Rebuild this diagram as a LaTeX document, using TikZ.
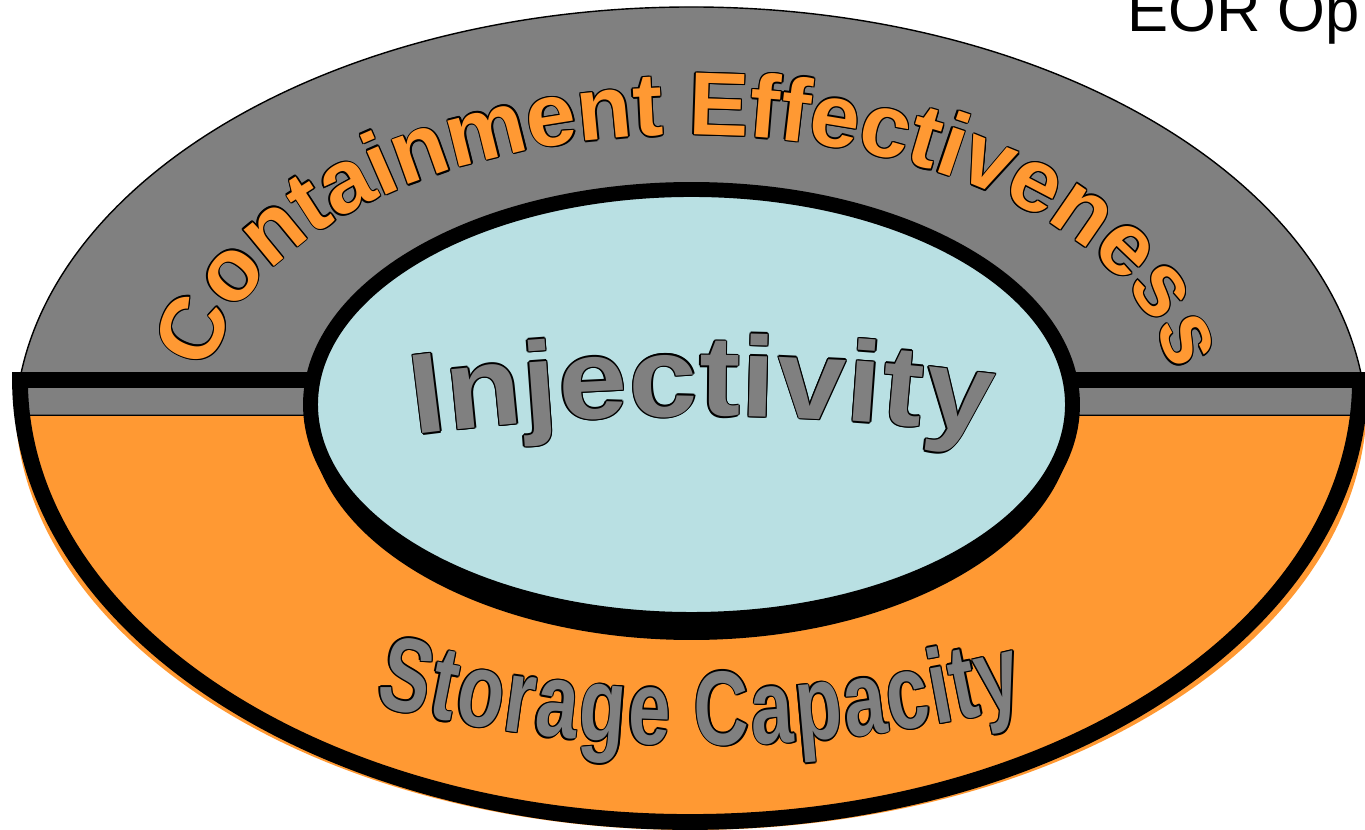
\documentclass[tikz,border=0pt]{standalone}
\usepackage{fontspec}
\usetikzlibrary{decorations.text}
\newfontfamily\capsfont{Liberation Sans}
\newfontfamily\widecaps{Liberation Sans}[FakeStretch=1.08]
\newfontfamily\narrowcaps{Liberation Sans}[FakeStretch=0.72]
\definecolor{rimgrey}{HTML}{808080}
\definecolor{bandorange}{HTML}{FF9933}
\definecolor{corecyan}{HTML}{B9E0E3}

% letter with a thin black ring round it
\newcommand\ringletter[2]{\hbox{%
  \foreach \ringang in {0,45,...,315}{%
    \pgfmathsetlengthmacro\ringdx{0.8pt*cos(\ringang)}%
    \pgfmathsetlengthmacro\ringdy{0.8pt*sin(\ringang)}%
    \rlap{\kern\ringdx\raise\ringdy\hbox{\color{black}#2}}}%
  \textcolor{#1}{\hbox{#2}}}}
\newcommand\orangeletter[1]{\ringletter{bandorange}{#1}}
\newcommand\greyletter[1]{\ringletter{rimgrey}{#1}}

\begin{document}
\begin{tikzpicture}[x=0.02cm,y=0.02cm,
  thickrim/.style={line width=9pt,line join=miter},
  thinrim/.style={line width=0.8pt}]
\useasboundingbox (0,0) rectangle (1365,830);
\clip (0,0) rectangle (1365,830);
% bands
\fill[bandorange] (691,430) ++(182:676 and 430)
  arc[start angle=182,end angle=358,x radius=676,y radius=430] -- cycle;
\filldraw[fill=rimgrey,draw=black,thinrim] (691,400) ++(2:676 and 423)
  arc[start angle=2,end angle=178,x radius=676,y radius=423] -- cycle;
\coordinate (barL) at (20,450);
\coordinate (coreL) at (310,450);
\coordinate (coreR) at (1073,450);
\draw[thickrim] (coreL) -- (barL)
  arc[start angle=180,end angle=360,x radius=670,y radius=442] -- (coreR);
% core
\fill[black] (691.5,412.5) ellipse[x radius=382,y radius=222.5];
\filldraw[fill=corecyan,draw=black,line width=8.5pt] (691.5,425.5) ellipse[x radius=381,y radius=215];
% texts
\path[decorate,decoration={text effects along path,text={Containment Effectiveness},
  text effects/.cd,text along path,fit text to path,character command=\orangeletter,
  every character/.append style={font=\capsfont\bfseries\fontsize{51pt}{53pt}\selectfont}}]
  (691,430) ++(174:482 and 265) arc[start angle=174,end angle=6,x radius=482,y radius=265];
\path[decorate,decoration={text effects along path,text={Injectivity},
  text effects/.cd,text along path,fit text to path,character command=\greyletter,
  every character/.append style={font=\widecaps\bfseries\fontsize{65pt}{68pt}\selectfont}}]
  (702,-1786) ++(97.5:2200) arc[start angle=97.5,end angle=82.5,radius=2200];
\path[decorate,decoration={text effects along path,text={Storage Capacity},
  text effects/.cd,text along path,fit text to path,character command=\greyletter,
  every character/.append style={font=\narrowcaps\bfseries\fontsize{60pt}{62pt}\selectfont}}]
  (700,1431) ++(256:1346) arc[start angle=256,end angle=284,radius=1346];
\node[anchor=base west,inner sep=0pt,font=\capsfont\fontsize{35pt}{38pt}\selectfont] (eor) at (1127,798) {EOR Op};
\end{tikzpicture}
\end{document}
